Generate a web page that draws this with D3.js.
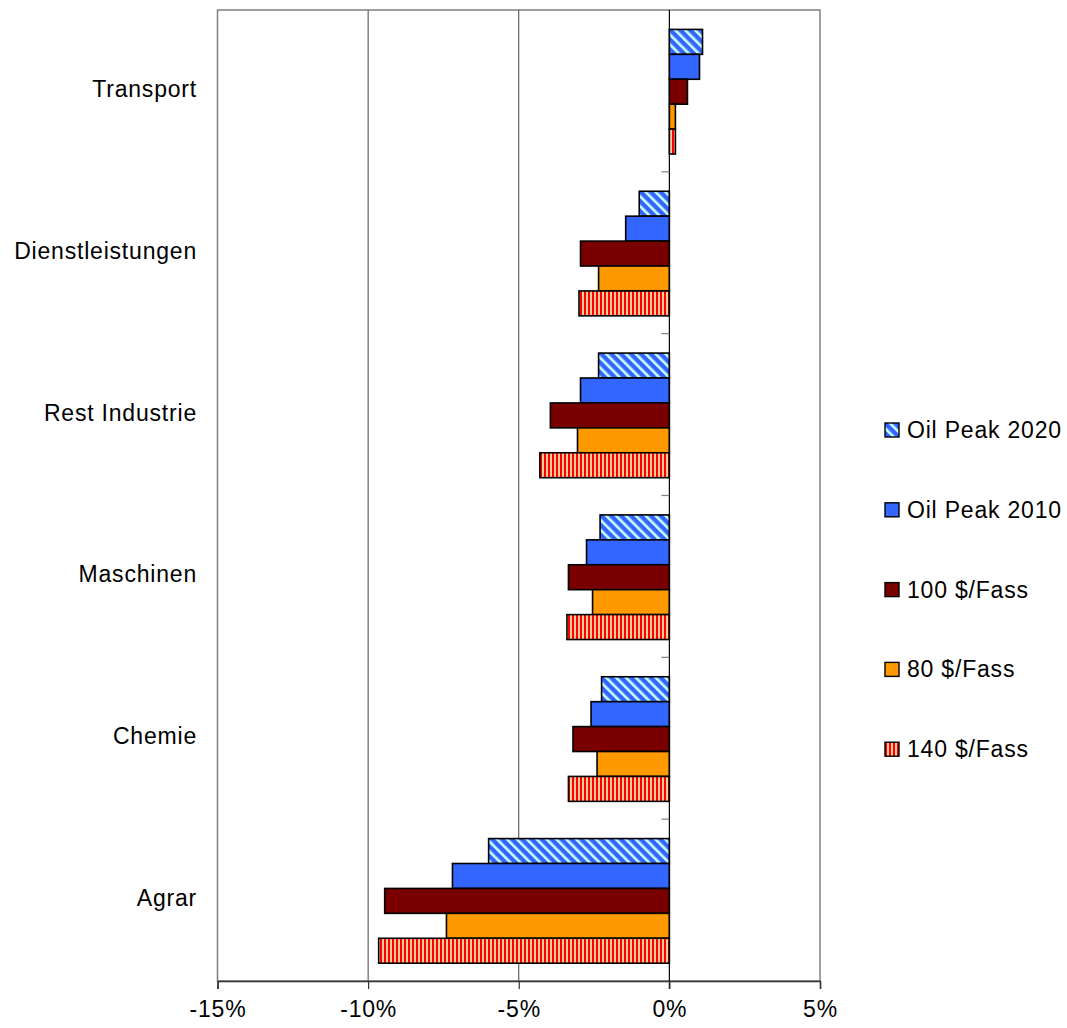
<!DOCTYPE html>
<html>
<head>
<meta charset="utf-8">
<script src="https://cdn.jsdelivr.net/npm/d3@7"></script>
<style>
  html, body { margin: 0; padding: 0; background: #ffffff; }
  svg { display: block; font-family: "Liberation Sans", Arial, sans-serif; }
  text { letter-spacing: 0.8px; }
</style>
</head>
<body>
<svg id="chart" width="1067" height="1028"></svg>
<script>
// Sectors, top to bottom
const categories = ["Transport", "Dienstleistungen", "Rest Industrie", "Maschinen", "Chemie", "Agrar"];

// Scenario names, in bar order within each sector
const seriesNames = ["Oil Peak 2020", "Oil Peak 2010", "100 $/Fass", "80 $/Fass", "140 $/Fass"];

// Change in percent per sector (same order as categories)
const oilPeak2020 = [1.1, -1.0, -2.35, -2.3, -2.25, -6.0];
const oilPeak2010 = [1.0, -1.45, -2.95, -2.75, -2.6, -7.2];
const fass100    = [0.6, -2.95, -3.95, -3.35, -3.2, -9.45];
const fass80     = [0.2, -2.35, -3.05, -2.55, -2.4, -7.4];
const fass140    = [0.2, -3.0, -4.3, -3.4, -3.35, -9.65];

const xTicks = [-15, -10, -5, 0, 5];

const seriesValues = [oilPeak2020, oilPeak2010, fass100, fass80, fass140];
const seriesFill = ["url(#hatchBlue)", "#3366ff", "#7a0000", "#ff9900", "url(#stripeRed)"];

const svg = d3.select("#chart");
const plot = { left: 217.5, right: 820, top: 10, bottom: 981 };

// Patterns
const defs = svg.append("defs");
const hb = defs.append("pattern")
  .attr("id", "hatchBlue").attr("patternUnits", "userSpaceOnUse")
  .attr("width", 7).attr("height", 7)
  .attr("patternTransform", "rotate(-45)");
hb.append("rect").attr("width", 7).attr("height", 7).attr("fill", "#3366ff");
hb.append("rect").attr("x", 0).attr("width", 2.6).attr("height", 7).attr("fill", "#ccffff");

const sr = defs.append("pattern")
  .attr("id", "stripeRed").attr("patternUnits", "userSpaceOnUse")
  .attr("width", 4).attr("height", 4);
sr.append("rect").attr("width", 4).attr("height", 4).attr("fill", "#ff0000");
sr.append("rect").attr("x", 2).attr("width", 2).attr("height", 4).attr("fill", "#ffcc99");

// Scales
const x = d3.scaleLinear().domain([-15, 5]).range([plot.left, plot.right]);
const y = d3.scaleBand().domain(categories).range([plot.top, plot.bottom]).padding(0);
const inner = d3.scaleBand().domain(seriesNames)
  .range([y.bandwidth() * 0.12, y.bandwidth() * 0.89]).padding(0);

// Frame
svg.append("rect")
  .attr("x", plot.left).attr("y", plot.top)
  .attr("width", plot.right - plot.left).attr("height", plot.bottom - plot.top)
  .attr("fill", "none").attr("stroke", "#808080").attr("stroke-width", 1.5);

// Vertical gridlines
svg.append("g").selectAll("line")
  .data(xTicks.filter(d => d !== 0 && d !== -15 && d !== 5))
  .join("line")
  .attr("x1", d => x(d)).attr("x2", d => x(d))
  .attr("y1", plot.top).attr("y2", plot.bottom)
  .attr("stroke", "#444").attr("stroke-width", 1);

// Bars
const groups = svg.append("g").selectAll("g")
  .data(categories)
  .join("g")
  .attr("transform", c => `translate(0,${y(c)})`);

groups.selectAll("rect")
  .data((c, ci) => seriesNames.map((s, si) => ({ s, si, v: seriesValues[si][ci] })))
  .join("rect")
  .attr("x", d => x(Math.min(0, d.v)))
  .attr("y", d => inner(d.s))
  .attr("width", d => Math.abs(x(d.v) - x(0)))
  .attr("height", inner.bandwidth())
  .attr("fill", d => seriesFill[d.si])
  .attr("stroke", "#000").attr("stroke-width", 1.6);

// Zero axis with category ticks on its left
const zeroX = x(0);
svg.append("line")
  .attr("x1", zeroX).attr("x2", zeroX)
  .attr("y1", plot.top).attr("y2", plot.bottom + 8)
  .attr("stroke", "#000").attr("stroke-width", 1.2);
svg.append("g").selectAll("line")
  .data(categories.slice(1))
  .join("line")
  .attr("x1", zeroX - 8).attr("x2", zeroX)
  .attr("y1", c => y(c)).attr("y2", c => y(c))
  .attr("stroke", "#808080").attr("stroke-width", 1.2);

// Bottom axis
const xAxis = d3.axisBottom(x).tickValues(xTicks).tickSize(8).tickPadding(12)
  .tickFormat(d => `${d}%`);
const gx = svg.append("g").attr("transform", `translate(0,${plot.bottom})`).call(xAxis);
gx.select(".domain").attr("stroke", "#333").attr("stroke-width", 1.5);
gx.selectAll(".tick line").attr("stroke", "#333").attr("stroke-width", 1.2);
gx.selectAll(".tick text")
  .attr("font-family", "'Liberation Sans', Arial, sans-serif")
  .attr("font-size", 23).attr("fill", "#000");

// Category labels
svg.append("g").selectAll("text")
  .data(categories)
  .join("text")
  .attr("x", 197)
  .attr("y", c => y(c) + y.bandwidth() / 2 - 2)
  .attr("dy", "0.35em")
  .attr("text-anchor", "end")
  .attr("font-size", 23)
  .attr("fill", "#000")
  .text(c => c);

// Legend
const legend = svg.append("g").selectAll("g")
  .data(seriesNames)
  .join("g")
  .attr("transform", (s, i) => `translate(885,${430 + i * 79.8})`);
legend.append("rect")
  .attr("x", 0).attr("y", -7).attr("width", 14).attr("height", 14)
  .attr("fill", (s, i) => seriesFill[i])
  .attr("stroke", "#000").attr("stroke-width", 1.4);
legend.append("text")
  .attr("x", 22).attr("y", 0).attr("dy", "0.35em")
  .attr("font-size", 23).attr("fill", "#000")
  .text(s => s);
</script>
</body>
</html>
